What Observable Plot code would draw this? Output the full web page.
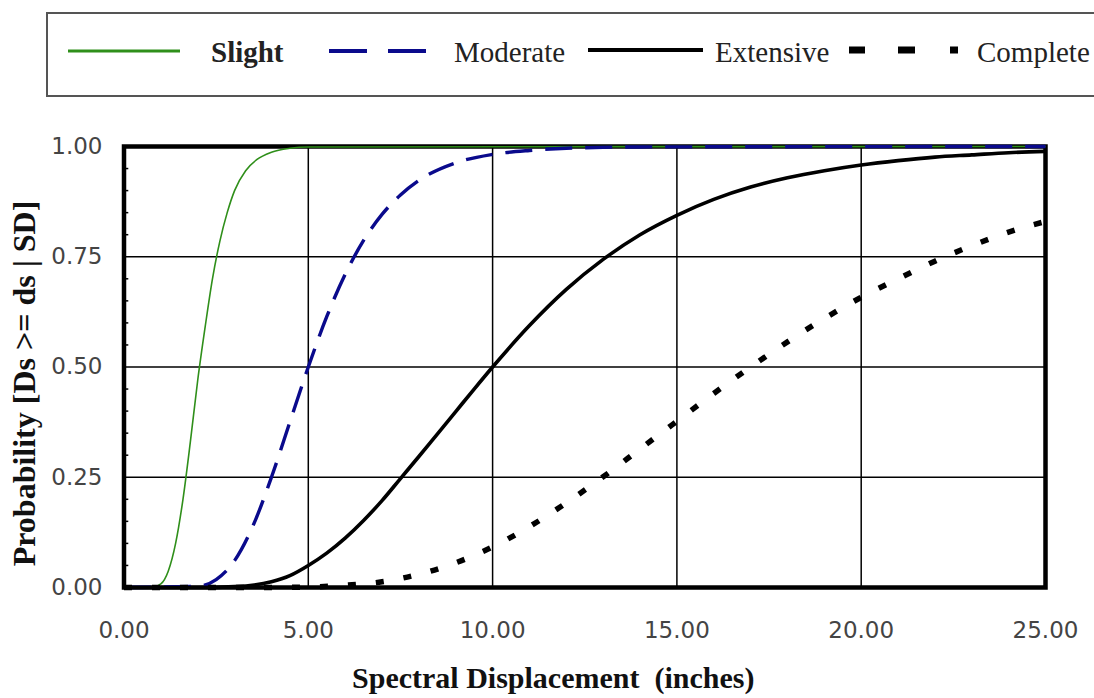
<!DOCTYPE html>
<html>
<head>
<meta charset="utf-8">
<script src="https://cdn.jsdelivr.net/npm/d3@7"></script>
<script src="https://cdn.jsdelivr.net/npm/@observablehq/plot@0.6"></script>
<style>
  html, body { margin: 0; padding: 0; background: white; width: 1094px; height: 698px; overflow: hidden; }
  #legend { position: absolute; left: 46px; top: 12px; width: 1120px; height: 85px; box-sizing: border-box; border: 2px solid #555; }
  #legendSvg { position: absolute; left: 0; top: 0; }
  #chart { position: absolute; left: 0; top: 100px; }
</style>
</head>
<body>
<div id="legend"></div>
<svg id="legendSvg" width="1094" height="100"></svg>
<div id="chart"></div>
<script>
// ---- Data (probability of reaching/exceeding damage state) ----
const seriesNames = ["Slight", "Moderate", "Extensive", "Complete"];

const slightSd = [0, 0.8, 1.0, 1.2, 1.4, 1.6, 1.8, 2.0, 2.2, 2.4, 2.6, 2.8, 3.0, 3.3, 3.6, 4.0, 4.5, 5.0, 25];
const slightP  = [0, 0.001, 0.008, 0.037, 0.10, 0.20, 0.33, 0.47, 0.59, 0.70, 0.785, 0.85, 0.90, 0.945, 0.97, 0.987, 0.996, 0.999, 1];

const moderateSd = [0, 2.0, 2.5, 3.0, 3.5, 4.0, 4.5, 5.0, 5.5, 6.0, 6.5, 7.0, 7.5, 8.0, 9.0, 10, 11, 12, 14, 25];
const moderateP  = [0, 0.003, 0.018, 0.061, 0.14, 0.25, 0.375, 0.5, 0.614, 0.71, 0.787, 0.846, 0.89, 0.923, 0.963, 0.982, 0.991, 0.996, 0.999, 1];

const extensiveSd = [0, 2, 3, 4, 4.5, 5, 5.5, 6, 6.5, 7, 7.5, 8, 8.5, 9, 9.5, 10, 11, 12, 13, 14, 15, 16, 17, 18, 19, 20, 21, 22, 23, 24, 25];
const extensiveP  = [0, 0, 0.002, 0.013, 0.027, 0.05, 0.078, 0.112, 0.152, 0.197, 0.247, 0.297, 0.348, 0.399, 0.45, 0.5, 0.594, 0.676, 0.744, 0.80, 0.844, 0.88, 0.908, 0.929, 0.945, 0.958, 0.968, 0.976, 0.981, 0.986, 0.989];

const completeSd = [0, 4, 5, 6, 7, 8, 9, 10, 11, 12, 13, 14, 15, 16, 17, 18, 19, 20, 21, 22, 23, 24, 25];
const completeP  = [0, 0, 0.001, 0.005, 0.013, 0.03, 0.056, 0.092, 0.138, 0.192, 0.251, 0.314, 0.377, 0.44, 0.5, 0.557, 0.61, 0.658, 0.70, 0.74, 0.775, 0.806, 0.83];

const xTicks = [0, 5, 10, 15, 20, 25];
const yTicks = [0, 0.25, 0.5, 0.75, 1];
const yMinorTicks = [0.05, 0.1, 0.15, 0.2, 0.3, 0.35, 0.4, 0.45, 0.55, 0.6, 0.65, 0.7, 0.8, 0.85, 0.9, 0.95];
const xTitle = "Spectral Displacement  (inches)";
const yTitle = "Probability [Ds >= ds | SD]";

// ---- styles ----
const styles = {
  Slight:    {stroke: "#2f8f1a", strokeWidth: 1.6, strokeDasharray: null},
  Moderate:  {stroke: "#0a0a8c", strokeWidth: 3.4, strokeDasharray: "27,13"},
  Extensive: {stroke: "#000000", strokeWidth: 3.6, strokeDasharray: null},
  Complete:  {stroke: "#000000", strokeWidth: 5.5, strokeDasharray: "8,20"}
};

const toRows = (xs, ps) => xs.map((x, i) => ({sd: x, p: ps[i]}));
const seriesRows = {
  Slight: toRows(slightSd, slightP),
  Moderate: toRows(moderateSd, moderateP),
  Extensive: toRows(extensiveSd, extensiveP),
  Complete: toRows(completeSd, completeP)
};

const serif = "'Liberation Serif', 'Times New Roman', serif";

const chart = Plot.plot({
  width: 1094,
  height: 598,
  marginTop: 46,
  marginBottom: 111,
  marginLeft: 123.5,
  marginRight: 49,
  x: {domain: [0, 25]},
  y: {domain: [0, 1]},
  style: {fontFamily: "'DejaVu Sans', sans-serif", fontSize: "23px", color: "#444", background: "white", overflow: "visible"},
  marks: [
    Plot.ruleX(xTicks.filter(d => d > 0 && d < 25), {stroke: "black", strokeWidth: 1.5}),
    Plot.ruleY(yTicks.filter(d => d > 0 && d < 1), {stroke: "black", strokeWidth: 1.5}),
    Plot.ruleY(yMinorTicks, {x1: 0, x2: 0.13, stroke: "black", strokeWidth: 1.5}),
    Plot.frame({stroke: "black", strokeWidth: 4.5}),
    Plot.axisX(xTicks, {tickSize: 0, tickPadding: 34, tickFormat: d => d.toFixed(2), label: null, fill: "#444"}),
    Plot.axisY(yTicks, {tickSize: 0, tickPadding: 21.5, tickFormat: d => d.toFixed(2), label: null, fill: "#444"}),
    ...seriesNames.map(name => Plot.line(seriesRows[name], {
      x: "sd", y: "p", curve: "monotone-x",
      stroke: styles[name].stroke,
      strokeWidth: styles[name].strokeWidth,
      strokeDasharray: styles[name].strokeDasharray,
      strokeLinecap: "butt",
      strokeLinejoin: "round"
    })),
    Plot.text([xTitle], {frameAnchor: "bottom", dx: -31.5, dy: 100, lineAnchor: "bottom", textAnchor: "middle", fontFamily: serif, fontWeight: "bold", fontSize: 30, fill: "#111"}),
    Plot.text([yTitle], {frameAnchor: "left", rotate: -90, dx: -89.5, dy: 16.5, lineAnchor: "bottom", textAnchor: "middle", fontFamily: serif, fontWeight: "bold", fontSize: 32, fill: "#111"})
  ]
});
document.getElementById("chart").appendChild(chart);

// ---- legend (HTML/SVG above the chart) ----
const lg = d3.select("#legendSvg");
const legendLayout = {
  Slight:    {x1: 68,  x2: 180, y: 51, w: 3,   dash: null,               tx: 211, weight: "bold"},
  Moderate:  {x1: 329, x2: 427, y: 51, w: 4,   dash: "38,21",            tx: 454, weight: "normal"},
  Extensive: {x1: 588, x2: 703, y: 50, w: 4,   dash: null,               tx: 715, weight: "normal"},
  Complete:  {x1: 849, x2: 958, y: 50, w: 7,   dash: "16,33,17,35,8",    tx: 977, weight: "normal"}
};
seriesNames.forEach(name => {
  const L = legendLayout[name];
  lg.append("line")
    .attr("x1", L.x1).attr("x2", L.x2).attr("y1", L.y).attr("y2", L.y)
    .attr("stroke", name === "Complete" || name === "Extensive" ? "#000" : styles[name].stroke)
    .attr("stroke-width", L.w)
    .attr("stroke-dasharray", L.dash);
  lg.append("text")
    .attr("x", L.tx).attr("y", 62)
    .attr("font-family", serif)
    .attr("font-size", 29)
    .attr("font-weight", L.weight)
    .attr("fill", "#222")
    .text(name);
});
</script>
</body>
</html>
